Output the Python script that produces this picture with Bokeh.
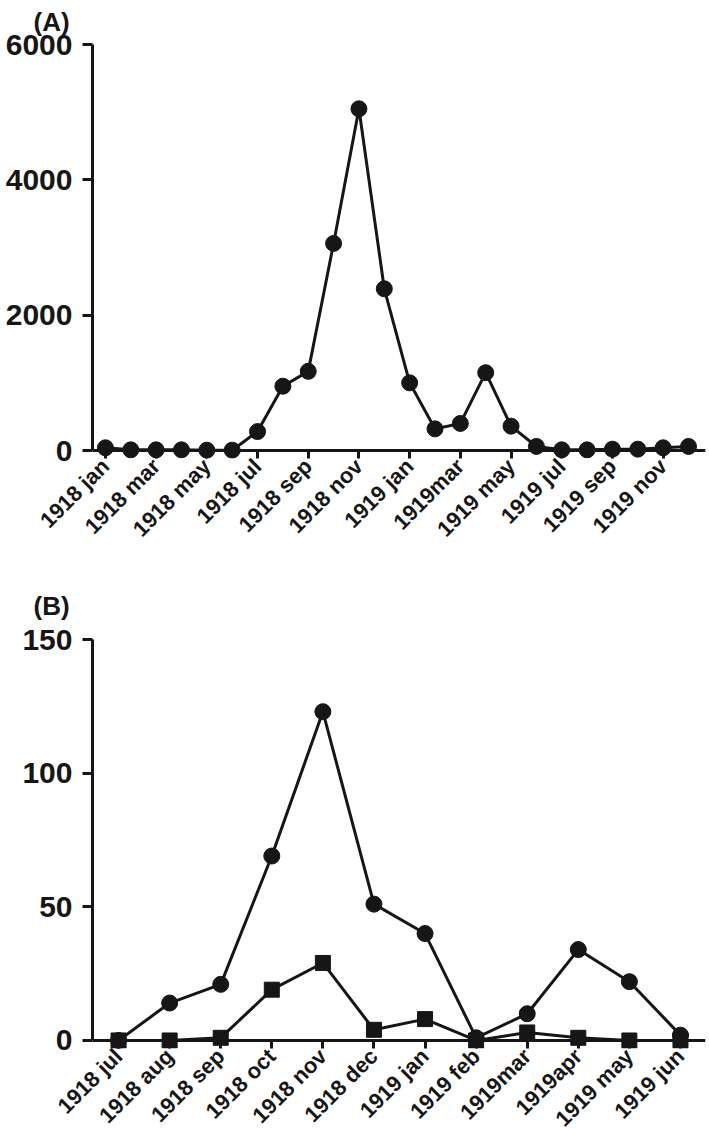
from bokeh.plotting import figure
from bokeh.layouts import column
from bokeh.models import Range1d, FixedTicker, Span
from bokeh.embed import file_html
from bokeh.resources import INLINE

# ---- data ----
months_a = ["1918 jan", "1918 feb", "1918 mar", "1918 apr", "1918 may", "1918 jun",
            "1918 jul", "1918 aug", "1918 sep", "1918 oct", "1918 nov", "1918 dec",
            "1919 jan", "1919 feb", "1919mar", "1919 apr", "1919 may", "1919 jun",
            "1919 jul", "1919 aug", "1919 sep", "1919 oct", "1919 nov", "1919 dec"]
cases_a = [40, 10, 10, 10, 5, 5, 280, 950, 1170, 3060, 5050, 2390,
           1000, 320, 400, 1150, 360, 60, 10, 10, 20, 20, 40, 60]
yticks_a = [0, 2000, 4000, 6000]

months_b = ["1918 jul", "1918 aug", "1918 sep", "1918 oct", "1918 nov", "1918 dec",
            "1919 jan", "1919 feb", "1919mar", "1919apr", "1919 may", "1919 jun"]
circles_b = [0, 14, 21, 69, 123, 51, 40, 1, 10, 34, 22, 2]
squares_b = [0, 0, 1, 19, 29, 4, 8, 0, 3, 1, 0, 0]
yticks_b = [0, 50, 100, 150]

INK = "#161616"
FONT = "Liberation Sans"
PAD_PX = 8


def style(p, xticks, labels, yticks, ylo, yhi):
    p.xgrid.visible = False
    p.ygrid.visible = False
    p.outline_line_color = None
    p.background_fill_color = "white"
    p.border_fill_color = "white"
    for ax in (p.xaxis, p.yaxis):
        ax.axis_line_width = 3
        ax.axis_line_color = INK
        ax.major_tick_line_width = 3
        ax.major_tick_line_color = INK
        ax.minor_tick_line_color = None
        ax.major_label_text_font = FONT
        ax.major_label_text_font_style = "bold"
        ax.major_label_text_color = INK
    p.yaxis.major_tick_out = 10
    p.yaxis.major_tick_in = 0
    p.yaxis.ticker = FixedTicker(ticks=yticks)
    p.yaxis.bounds = (ylo, yhi)
    p.yaxis.major_label_text_font_size = "30px"
    p.yaxis.major_label_standoff = 10
    # x axis sits at frame bottom (just below y=0); its line is drawn as a Span at y=0
    p.xaxis.axis_line_color = None
    p.xaxis.major_tick_in = PAD_PX + 1
    p.xaxis.major_tick_out = 0
    p.xaxis.ticker = FixedTicker(ticks=xticks)
    p.xaxis.major_label_overrides = {i: labels[i] for i in xticks}
    p.xaxis.major_label_orientation = 0.785398
    p.xaxis.major_label_text_font_size = "22px"
    p.xaxis.major_label_standoff = 4
    p.add_layout(Span(location=0, dimension="width", line_color=INK, line_width=3))
    p.title.text_font = FONT
    p.title.text_font_style = "bold"
    p.title.text_font_size = "26px"
    p.title.text_color = INK
    p.title.align = "left"
    p.title.vertical_align = "top"
    p.title.offset = -59


# ---- panel A ----
xa = list(range(len(months_a)))
pA = figure(width=709, height=553, output_backend="svg", toolbar_location=None,
            x_range=Range1d(-0.51, 23.67), y_range=Range1d(-118, 6000),
            min_border_left=92, min_border_right=4, min_border_top=44,
            title="(A)")
style(pA, list(range(0, 24, 2)), months_a, yticks_a, 0, 6000)
pA.title.standoff = 12
pA.line(xa, cases_a, line_color=INK, line_width=3)
pA.scatter(xa, cases_a, marker="circle", size=16, fill_color=INK, line_color=INK)

# ---- panel B ----
xb = list(range(len(months_b)))
pB = figure(width=709, height=590, output_backend="svg", toolbar_location=None,
            x_range=Range1d(-0.51, 11.49), y_range=Range1d(-3, 150),
            min_border_left=92, min_border_right=4, min_border_top=86,
            title="(B)")
style(pB, xb, months_b, yticks_b, 0, 150)
pB.title.standoff = 34
pB.line(xb, circles_b, line_color=INK, line_width=3)
pB.scatter(xb, circles_b, marker="circle", size=16, fill_color=INK, line_color=INK)
pB.line(xb, squares_b, line_color=INK, line_width=3)
pB.scatter(xb, squares_b, marker="square", size=15, fill_color=INK, line_color=INK)

layout = column(pA, pB, spacing=0)
open("out.html", "w").write(file_html(layout, INLINE))
